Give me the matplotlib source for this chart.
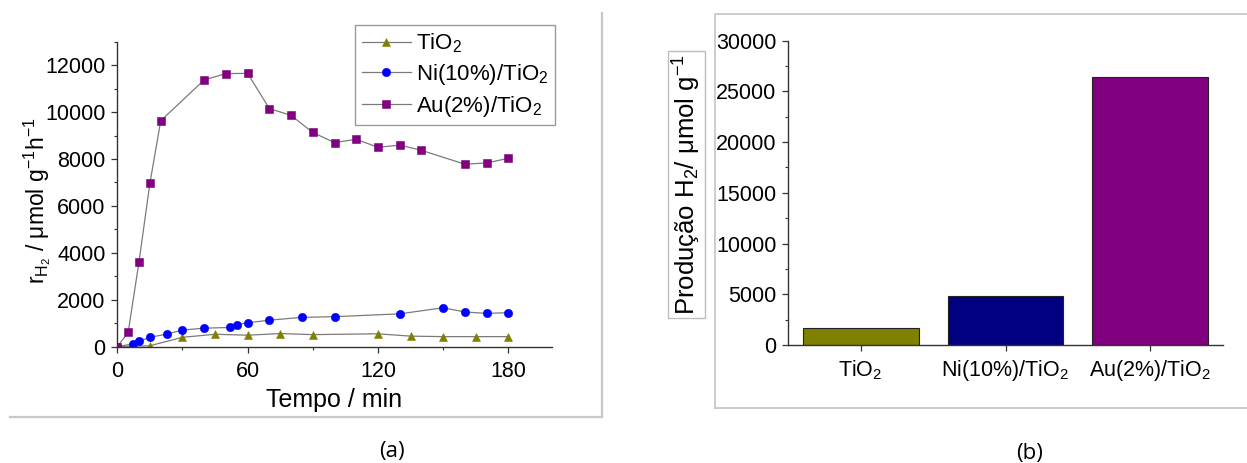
import matplotlib
matplotlib.use("Agg")
import matplotlib.pyplot as plt
from matplotlib.lines import Line2D
from matplotlib.ticker import MultipleLocator

plt.rcParams["font.family"] = ["Liberation Sans", "DejaVu Sans"]
plt.rcParams["mathtext.fontset"] = "custom"
plt.rcParams["mathtext.rm"] = "Liberation Sans"
plt.rcParams["mathtext.it"] = "Liberation Sans:italic"
plt.rcParams["mathtext.bf"] = "Liberation Sans:bold"

# --- (a) H2 production rate vs time ---
t_tio2 = [0, 15, 30, 45, 60, 75, 90, 120, 135, 150, 165, 180]
r_tio2 = [0, 40, 400, 530, 490, 560, 515, 550, 450, 430, 430, 430]

t_ni = [0, 7, 10, 15, 23, 30, 40, 52, 55, 60, 70, 85, 100, 130, 150, 160, 170, 180]
r_ni = [0, 120, 230, 400, 540, 710, 790, 820, 940, 1020, 1130, 1250, 1280, 1400, 1660, 1480, 1420, 1450]

t_au = [0, 5, 10, 15, 20, 40, 50, 60, 70, 80, 90, 100, 110, 120, 130, 140, 160, 170, 180]
r_au = [0, 610, 3620, 6960, 9630, 11370, 11640, 11650, 10150, 9860, 9130, 8700,
        8840, 8500, 8590, 8370, 7780, 7830, 8030]

series_labels = ["TiO$_2$", "Ni(10%)/TiO$_2$", "Au(2%)/TiO$_2$"]

# --- (b) total H2 production ---
catalysts = ["TiO$_2$", "Ni(10%)/TiO$_2$", "Au(2%)/TiO$_2$"]
production = [1700, 4830, 26390]

olive, blue, purple, navy = "#808000", "#0000FF", "#800080", "#000080"
line_grey = "#7a7a7a"
axis_col = "#333333"

fig = plt.figure(figsize=(12.47, 4.63), dpi=100)
W, H = 1247.0, 463.0

def fx(px):
    return px / W

def fy(py):
    return 1 - py / H

ax1 = fig.add_axes([fx(117.3), fy(346.7), fx(551.7) - fx(117.3), fy(41.7) - fy(346.7)])
ax2 = fig.add_axes([fx(788.3), fy(345.0), fx(1222.7) - fx(788.3), fy(40.7) - fy(345.0)])

kw = dict(color=line_grey, lw=0.9, markeredgewidth=0.4)
ax1.plot(t_tio2, r_tio2, marker="^", ms=6, mfc=olive, mec=olive, label=series_labels[0], **kw)
ax1.plot(t_ni, r_ni, marker="o", ms=6, mfc=blue, mec=blue, label=series_labels[1], **kw)
ax1.plot(t_au, r_au, marker="s", ms=5.2, mfc=purple, mec=purple, label=series_labels[2], **kw)

ax1.set_xlim(0, 200)
ax1.set_ylim(0, 13000)
ax1.set_xticks([0, 60, 120, 180])
ax1.xaxis.set_minor_locator(MultipleLocator(30))
ax1.set_yticks(range(0, 12001, 2000))
ax1.yaxis.set_minor_locator(MultipleLocator(1000))

ax1.set_xlabel("Tempo / min", fontsize=18)
ax1.xaxis.set_label_coords(0.5, -0.175)
ax1.xaxis.label.set_va("center")

fig.text(fx(37), fy(201), r"r$_{\mathregular{H}_{2}}$ / μmol g$^{-1}$h$^{-1}$",
         rotation=90, ha="center", va="center", fontsize=16.5)

leg = ax1.legend(loc="upper left", bbox_to_anchor=(fx(355), fy(25)), bbox_transform=fig.transFigure,
                 fontsize=16, frameon=True, fancybox=False, edgecolor="#9a9a9a",
                 handlelength=2.2, handletextpad=0.25, labelspacing=0.3, borderpad=0.3,
                 borderaxespad=0, numpoints=1, framealpha=1)
leg.get_frame().set_linewidth(1.0)

# bars
xpos = list(range(len(catalysts)))
ax2.bar(xpos, production, width=0.8, color=[olive, navy, purple], edgecolor="#222222", linewidth=0.8)
ax2.set_xlim(-0.5, 2.5)
ax2.set_ylim(0, 30000)
ax2.set_xticks(xpos)
ax2.set_xticklabels(catalysts)
ax2.set_yticks(range(0, 30001, 5000))
ax2.yaxis.set_minor_locator(MultipleLocator(2500))

fig.text(fx(686.5), fy(184.5), "Produção H$_2$/ μmol g$^{-1}$", rotation=90,
         ha="center", va="center", fontsize=18.5,
         bbox=dict(boxstyle="square,pad=0.1", fc="white", ec="#bdbdbd", lw=1.0))

for ax in (ax1, ax2):
    for side in ("top", "right"):
        ax.spines[side].set_visible(False)
    for side in ("left", "bottom"):
        ax.spines[side].set_color(axis_col)
        ax.spines[side].set_linewidth(1.0)
    ax.tick_params(which="major", direction="out", length=4.5, width=0.9, color=axis_col,
                   labelsize=15.5, pad=4)
    ax.tick_params(which="minor", direction="out", length=2.5, width=0.8, color=axis_col)
ax1.tick_params(axis="x", which="major", pad=6)
ax2.tick_params(axis="x", which="major", pad=5, labelsize=15.5)
ax2.tick_params(axis="x", which="minor", bottom=False)

# panel frames
frame = "#c8c8c8"
fig.add_artist(Line2D([fx(602), fx(602)], [fy(13), fy(417)], color=frame, lw=1.6, transform=fig.transFigure))
fig.add_artist(Line2D([fx(10), fx(602)], [fy(417), fy(417)], color=frame, lw=1.6, transform=fig.transFigure))
fig.add_artist(Line2D([fx(715.3), fx(715.3), fx(1247)], [fy(408.3), fy(14), fy(14)], color=frame,
                      lw=1.3, transform=fig.transFigure))
fig.add_artist(Line2D([fx(715.3), fx(1247)], [fy(408.3), fy(408.3)], color=frame, lw=1.3,
                      transform=fig.transFigure))

fig.text(fx(392), fy(452), "(a)", ha="center", va="center", fontsize=16, family="Open Sans")
fig.text(fx(1030), fy(453), "(b)", ha="center", va="center", fontsize=16, family="Open Sans")

fig.savefig("out.png", dpi=100, facecolor="white")
